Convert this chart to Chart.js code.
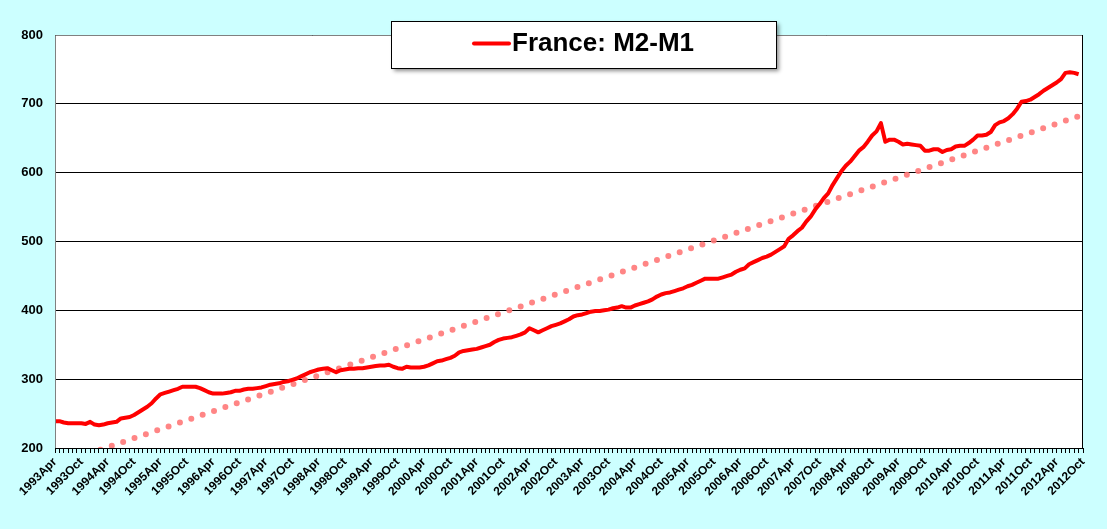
<!DOCTYPE html>
<html>
<head>
<meta charset="utf-8">
<script src="https://cdn.jsdelivr.net/npm/chart.js@4.4.1/dist/chart.umd.min.js"></script>
<style>
  html, body { margin: 0; padding: 0; background: #ccffff; }
  #wrap { width: 1107px; height: 529px; }
</style>
</head>
<body>
<div id="wrap"><canvas id="mycanvas" width="1107" height="529"></canvas></div>
<script>
// tick labels every 6 months
var tickLabels = ['1993Apr','1993Oct','1994Apr','1994Oct','1995Apr','1995Oct','1996Apr','1996Oct',
  '1997Apr','1997Oct','1998Apr','1998Oct','1999Apr','1999Oct','2000Apr','2000Oct','2001Apr','2001Oct',
  '2002Apr','2002Oct','2003Apr','2003Oct','2004Apr','2004Oct','2005Apr','2005Oct','2006Apr','2006Oct',
  '2007Apr','2007Oct','2008Apr','2008Oct','2009Apr','2009Oct','2010Apr','2010Oct','2011Apr','2011Oct',
  '2012Apr','2012Oct'];

// monthly categories 1993Apr .. 2012Oct
var monthNames = ['Jan','Feb','Mar','Apr','May','Jun','Jul','Aug','Sep','Oct','Nov','Dec'];
var months = [];
for (var y = 1993; y <= 2012; y++) {
  for (var m = 0; m < 12; m++) {
    if (y == 1993 && m < 3) continue;
    if (y == 2012 && m > 9) continue;
    months.push(y + monthNames[m]);
  }
}

// France M2-M1, monthly
var m2m1 = [
  239,239,237,236,236,236,236,235,238,234,233,234,
  236,237,238,243,244,245,248,252,256,260,265,272,
  278,280,282,284,286,289,289,289,289,287,284,281,
  279,279,279,280,281,283,283,285,286,286,287,288,
  290,292,293,294,296,297,299,301,304,307,310,312,
  314,315,316,313,310,313,314,315,315,316,316,317,
  318,319,320,320,321,318,316,315,318,317,317,317,
  318,320,323,326,327,329,331,334,339,341,342,343,
  344,346,348,350,354,357,359,360,361,363,365,368,
  374,371,368,371,374,377,379,381,384,387,391,393,
  394,396,398,399,399,400,401,403,404,406,404,404,
  407,409,411,413,416,420,423,425,426,428,430,432,
  435,437,440,443,446,446,446,446,448,450,452,456,
  459,461,467,470,473,476,478,481,485,489,493,504,
  509,515,520,529,536,546,554,563,570,582,592,602,
  610,616,624,632,637,645,654,660,672,645,648,648,
  645,641,642,641,640,639,632,632,634,634,630,633,
  634,638,639,639,643,648,654,654,655,659,669,673,
  675,679,685,693,703,704,706,710,714,719,723,727,
  731,736,745,746,745,743,null
];

// linear trend end points
var trendLabels = ['1993Apr', '2012Sep'];
var trendValues = [175, 682];

var seriesLabel = 'France: M2-M1';

var panelPlugin = {
  id: 'panel',
  beforeDraw: function(chart) {
    var ctx = chart.ctx, a = chart.chartArea;
    ctx.save();
    ctx.fillStyle = '#ccffff';
    ctx.fillRect(0, 0, chart.width, chart.height);
    ctx.fillStyle = '#ffffff';
    ctx.fillRect(a.left, a.top, a.right - a.left, a.bottom - a.top);
    ctx.restore();
  },
  afterDraw: function(chart) {
    var ctx = chart.ctx, a = chart.chartArea;
    ctx.save();
    // plot border
    ctx.lineWidth = 1;
    ctx.strokeStyle = '#808080';
    ctx.beginPath();
    ctx.moveTo(a.left + 0.5, a.bottom);
    ctx.lineTo(a.left + 0.5, a.top + 0.5);
    ctx.lineTo(a.right, a.top + 0.5);
    ctx.stroke();
    ctx.strokeStyle = '#000000';
    ctx.beginPath();
    ctx.moveTo(a.right - 0.5, a.top);
    ctx.lineTo(a.right - 0.5, a.bottom);
    ctx.stroke();

    // legend box
    var bx = 391, by = 21, bw = 385, bh = 47;
    ctx.shadowColor = 'rgba(0,0,0,0.45)';
    ctx.shadowBlur = 4;
    ctx.shadowOffsetX = 3;
    ctx.shadowOffsetY = 3;
    ctx.fillStyle = '#ffffff';
    ctx.fillRect(bx, by, bw, bh);
    ctx.shadowColor = 'transparent';
    ctx.strokeStyle = '#000000';
    ctx.strokeRect(bx + 0.5, by + 0.5, bw, bh);
    ctx.strokeStyle = '#ff0000';
    ctx.lineWidth = 4;
    ctx.lineCap = 'round';
    ctx.beginPath();
    ctx.moveTo(474, 43.5);
    ctx.lineTo(509, 43.5);
    ctx.stroke();
    ctx.fillStyle = '#000000';
    ctx.font = 'bold 26px "Liberation Sans", Arial, sans-serif';
    ctx.textBaseline = 'middle';
    ctx.textAlign = 'left';
    ctx.fillText(seriesLabel, 512, 44);
    ctx.restore();
  }
};

var ctx = document.getElementById('mycanvas');

var chart = new Chart(ctx, {
  type: 'line',
  data: {
    labels: months,
    datasets: [
      {
        label: seriesLabel,
        data: m2m1,
        borderColor: '#ff0000',
        borderWidth: 4,
        pointRadius: 0,
        tension: 0,
        borderJoinStyle: 'round',
        order: 1
      },
      {
        label: 'trend',
        data: [{x: trendLabels[0], y: trendValues[0]}, {x: trendLabels[1], y: trendValues[1]}],
        borderColor: 'rgba(255,120,120,0.9)',
        borderWidth: 6,
        borderDash: [0, 12],
        borderCapStyle: 'round',
        pointRadius: 0,
        tension: 0,
        order: 2
      }
    ]
  },
  options: {
    responsive: false,
    animation: false,
    devicePixelRatio: 1,
    layout: { padding: { top: 35, right: 24, left: 0, bottom: 0 } },
    plugins: {
      legend: { display: false },
      tooltip: { enabled: false }
    },
    scales: {
      x: {
        offset: false,
        afterFit: function(scale) { scale.height = 81; },
        grid: {
          drawOnChartArea: false,
          drawTicks: true,
          tickLength: 5,
          tickColor: '#000000',
          color: '#000000'
        },
        border: { color: '#000000', width: 1 },
        ticks: {
          autoSkip: false,
          minRotation: 45,
          maxRotation: 45,
          padding: 2,
          color: '#000000',
          font: { family: '"Liberation Sans", Arial, sans-serif', size: 12, weight: 'bold' },
          callback: function(val, i) {
            return i % 6 == 0 ? tickLabels[i / 6] : '';
          }
        }
      },
      y: {
        min: 200,
        max: 800,
        afterFit: function(scale) { scale.width = 55; },
        grid: {
          color: '#000000',
          lineWidth: 1,
          drawTicks: false
        },
        border: { display: false },
        ticks: {
          stepSize: 100,
          padding: 12,
          color: '#000000',
          font: { family: '"Liberation Sans", Arial, sans-serif', size: 13, weight: 'bold' }
        }
      }
    }
  },
  plugins: [panelPlugin]
});
</script>
</body>
</html>
